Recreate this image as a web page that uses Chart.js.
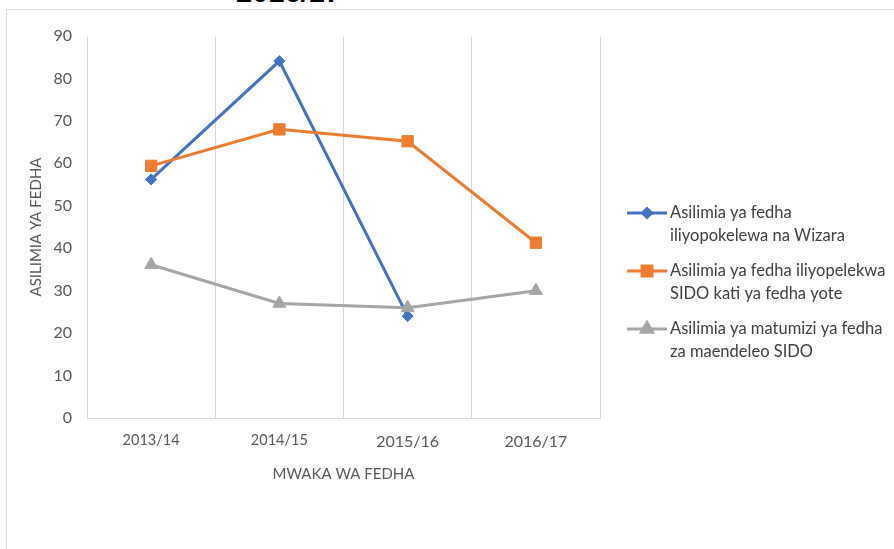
<!DOCTYPE html>
<html>
<head>
<meta charset="utf-8">
<script src="https://cdn.jsdelivr.net/npm/chart.js@4/dist/chart.umd.min.js"></script>
<style>
  body { margin: 0; background: #fff; }
  .wrap { position: relative; width: 894px; height: 549px; overflow: hidden; }
  .frame { position: absolute; left: 6px; top: 9px; width: 900px; height: 560px;
           border-top: 1px solid #d9d9d9; border-left: 1px solid #d9d9d9; }
  .caption { position: absolute; left: 236px; top: -22px; font: bold 29px "Liberation Sans", sans-serif;
             line-height: 29px; color: #000; white-space: nowrap; }
  canvas { position: absolute; left: 0; top: 0; }
</style>
</head>
<body>
<div class="wrap">
  <div class="caption">2016/17</div>
  <div class="frame"></div>
  <canvas id="grafico" width="894" height="549"></canvas>
</div>
<script>
// miaka ya fedha
const miaka = ['2013/14', '2014/15', '2015/16', '2016/17']
// asilimia zilizosomwa kwenye picha
const wizara = [56.2, 84.1, 24, null]
const sido = [59.4, 68, 65.2, 41.3]
const matumizi = [36.1, 27, 26, 30]
const majina = [
  ['Asilimia ya fedha', 'iliyopokelewa na Wizara'],
  ['Asilimia ya fedha iliyopelekwa', 'SIDO kati ya fedha yote'],
  ['Asilimia ya matumizi ya fedha', 'za maendeleo SIDO']
]
const yMin = 0, yMax = 90, yStep = 10

const rangi = ['#4472C4', '#ED7D31', '#A5A5A5']
const alama = [['rectRot', 5.5], ['rect', 8], ['triangle', 7.5]]
const FONT = 'Lato'

function mstari(data, i, order){
  return {
    label: majina[i].join(' '),
    data: data,
    borderColor: rangi[i],
    backgroundColor: rangi[i],
    borderWidth: 3,
    tension: 0,
    pointStyle: alama[i][0],
    pointRadius: alama[i][1],
    pointBorderWidth: 1,
    pointBackgroundColor: rangi[i],
    pointBorderColor: rangi[i],
    order: order
  }
}

// legend upande wa kulia (maandishi ya mistari miwili)
const legendKulia = {
  id: 'legendKulia',
  afterDraw(chart){
    const ctx = chart.ctx
    ctx.save()
    for (let i = 0; i < majina.length; i++){
      const y = 213 + i * 58
      ctx.strokeStyle = rangi[i]
      ctx.lineWidth = 3
      ctx.beginPath(); ctx.moveTo(627, y); ctx.lineTo(667, y); ctx.stroke()
      ctx.fillStyle = rangi[i]
      Chart.helpers.drawPoint(ctx, {pointStyle: alama[i][0], radius: alama[i][0] == 'rect' ? 7 : alama[i][1] - 1, borderWidth: 1, rotation: 0}, 647, y)
      ctx.fill()
      ctx.fillStyle = '#404040'
      ctx.font = '16.5px ' + FONT
      ctx.textBaseline = 'middle'
      ctx.textAlign = 'left'
      majina[i].forEach((t, j) => ctx.fillText(t, 670, y + j * 23))
    }
    ctx.restore()
  }
}

const graph = new Chart(document.getElementById('grafico').getContext('2d'), {
  type: 'line',
  data: {
    labels: miaka,
    datasets: [mstari(wizara, 0, 3), mstari(sido, 1, 2), mstari(matumizi, 2, 1)]
  },
  options: {
    responsive: false,
    animation: false,
    devicePixelRatio: 1,
    layout: { padding: { left: 0, right: 294, top: 36, bottom: 0 } },
    plugins: { legend: { display: false }, tooltip: { enabled: false } },
    scales: {
      x: {
        offset: true,
        grid: { offset: true, color: '#d9d9d9', lineWidth: 1, drawTicks: false },
        border: { display: true, color: '#d9d9d9', width: 1 },
        ticks: {
          color: '#595959',
          padding: 14,
          font: c => ({ family: FONT, size: c.index < 2 ? 14.5 : 16 })
        },
        title: { display: true, text: 'MWAKA WA FEDHA', color: '#595959', font: { family: FONT, size: 15 }, padding: { top: 0, bottom: 66 } },
        afterFit: s => { s.height = 131 }
      },
      y: {
        min: yMin, max: yMax,
        grid: { display: false, drawTicks: false },
        border: { display: false },
        ticks: { stepSize: yStep, color: '#595959', padding: 15, font: { family: FONT, size: 16 } },
        title: { display: true, text: 'ASILIMIA YA FEDHA', color: '#595959', font: { family: FONT, size: 15 }, padding: { top: 27, bottom: 0 } },
        afterFit: s => { s.width = 87 }
      }
    }
  },
  plugins: [legendKulia]
})
</script>
</body>
</html>
